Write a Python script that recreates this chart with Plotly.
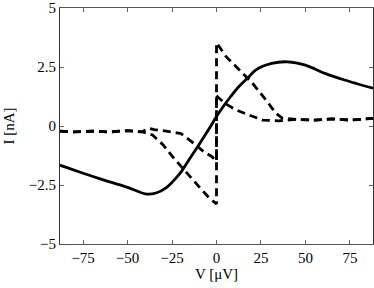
import plotly.graph_objects as go

# Solid curve
v_solid = [-88, -75, -65, -50, -40, -34, -28, -21, -19, -15, -10.6, -4, 0, 4, 8, 12, 18, 22, 31, 40, 50, 61, 72, 88]
i_solid = [-1.66, -2.0, -2.25, -2.6, -2.88, -2.84, -2.6, -2.05, -1.85, -1.38, -0.88, -0.1, 0.4, 0.85, 1.25, 1.62, 2.07, 2.37, 2.65, 2.72, 2.58, 2.23, 1.95, 1.6]

# Dashed curve A (large jump)
v_dash_a = [-88, -80, -70, -60, -50, -41.5, -36, -30, -24.7, -18, -11.5, -4, 0, 0, 5.4, 12.9, 20.3, 27.8, 33.4, 37, 45, 55, 65, 75, 88]
i_dash_a = [-0.22, -0.25, -0.22, -0.25, -0.2, -0.25, -0.38, -0.8, -1.3, -1.85, -2.43, -3.06, -3.3, 3.53, 2.94, 2.37, 1.81, 1.1, 0.54, 0.33, 0.28, 0.25, 0.3, 0.25, 0.32]

# Dashed curve B (small jump)
v_dash_b = [-88, -80, -70, -60, -50, -42, -38, -35, -30, -25, -20, -14, -7, -2.5, 0, 0, 0.5, 5, 11, 17, 26, 35, 45, 55, 65, 75, 88]
i_dash_b = [-0.22, -0.25, -0.22, -0.25, -0.2, -0.25, -0.1, -0.15, -0.2, -0.25, -0.32, -0.66, -1.1, -1.3, -1.5, 1.3, 1.24, 0.95, 0.68, 0.5, 0.25, 0.22, 0.28, 0.25, 0.3, 0.25, 0.32]

x_ticks = [-75, -50, -25, 0, 25, 50, 75]
x_tick_labels = ["\u221275", "\u221250", "\u221225", "0", "25", "50", "75"]
y_ticks = [-5, -2.5, 0, 2.5, 5]
y_tick_labels = ["\u22125", "\u22122.5", "0", "2.5", "5"]

dash_style = "8px,5px"

fig = go.Figure()
fig.add_trace(go.Scatter(x=v_dash_a, y=i_dash_a, mode="lines",
                         line=dict(color="black", width=2.8, dash=dash_style)))
fig.add_trace(go.Scatter(x=v_dash_b, y=i_dash_b, mode="lines",
                         line=dict(color="black", width=2.8, dash=dash_style)))
fig.add_trace(go.Scatter(x=v_solid, y=i_solid, mode="lines",
                         line=dict(color="black", width=2.8, shape="spline", smoothing=0.8)))

font = dict(family="Times New Roman, Liberation Serif, serif", size=15, color="black")

fig.update_layout(
    width=374, height=288,
    margin=dict(l=60, r=1, t=8, b=44, autoexpand=False),
    paper_bgcolor="white", plot_bgcolor="white",
    showlegend=False,
    font=font,
    xaxis=dict(range=[-88, 88], tickvals=x_ticks, ticktext=x_tick_labels,
               ticks="inside", ticklen=4, tickcolor="#666", showgrid=False,
               zeroline=False, showline=True, linecolor="#555", linewidth=1,
               mirror="ticks", automargin=False,
               title=dict(text="V [\u03bcV]", standoff=2, font=font),
               tickfont=font),
    yaxis=dict(range=[-5, 5], tickvals=y_ticks, ticktext=y_tick_labels,
               ticks="inside", ticklen=4, tickcolor="#666", showgrid=False,
               zeroline=False, showline=True, linecolor="#333", linewidth=1,
               mirror="ticks", automargin=False,
               title=dict(text="I [nA]", standoff=10, font=font),
               tickfont=font),
)

fig.write_html("out.html", config={"responsive": False, "displayModeBar": False},
               post_script="document.body.style.margin='0';document.body.style.overflow='hidden';")
